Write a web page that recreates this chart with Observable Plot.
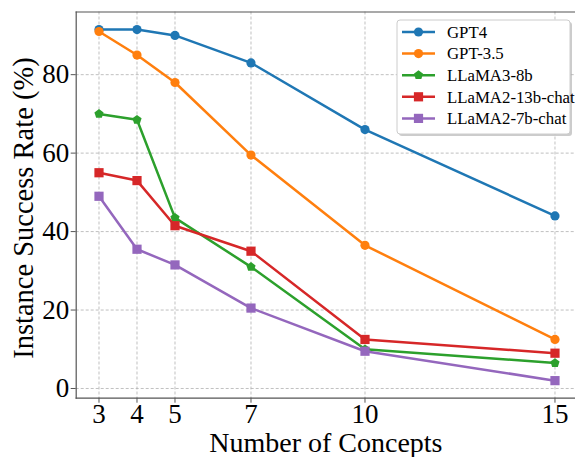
<!DOCTYPE html>
<html><head><meta charset="utf-8">
<script src="https://cdn.jsdelivr.net/npm/d3@7"></script>
<script src="https://cdn.jsdelivr.net/npm/@observablehq/plot@0.6"></script>
<style>body{margin:0;background:#fff}</style>
</head><body><div id="chart"></div>
<script>
const concepts = [3, 4, 5, 7, 10, 15];
const seriesNames = ["GPT4", "GPT-3.5", "LLaMA3-8b", "LLaMA2-13b-chat", "LLaMA2-7b-chat"];
const gpt4 = [91.5, 91.5, 90, 83, 66, 44];
const gpt35 = [91, 85, 78, 59.5, 36.5, 12.5];
const llama3_8b = [70, 68.5, 43.5, 31, 10, 6.5];
const llama2_13b = [55, 53, 41.5, 35, 12.5, 9];
const llama2_7b = [49, 35.5, 31.5, 20.5, 9.5, 2];
const yTicks = [0, 20, 40, 60, 80];
const xLabel = "Number of Concepts";
const yLabel = "Instance Success Rate (%)";

const values = [gpt4, gpt35, llama3_8b, llama2_13b, llama2_7b];
const colors = ["#1f77b4", "#ff7f0e", "#2ca02c", "#d62728", "#9467bd"];
const serif = "'Liberation Serif', 'Times New Roman', serif";

const pentagon = {
  draw(ctx, size) {
    const R = Math.sqrt(size / (2.5 * Math.sin(2 * Math.PI / 5)));
    for (let i = 0; i < 5; i++) {
      const a = -Math.PI / 2 + i * 2 * Math.PI / 5;
      const px = R * Math.cos(a), py = R * Math.sin(a);
      if (i === 0) ctx.moveTo(px, py); else ctx.lineTo(px, py);
    }
    ctx.closePath();
  }
};
const symbols = ["circle", "circle", pentagon, "square", "square"];
const radii = [4.6, 4.6, 4.2, 5.2, 5.2];

const rows = seriesNames.map((s, i) => concepts.map((c, j) => ({series: s, x: c, y: values[i][j]})));

const marks = [
  Plot.gridX(concepts, {stroke: "#b0b0b0", strokeOpacity: 1, strokeDasharray: "3,2", strokeWidth: 0.8}),
  Plot.gridY(yTicks, {stroke: "#b0b0b0", strokeOpacity: 1, strokeDasharray: "3,2", strokeWidth: 0.8}),
  Plot.frame({anchor: "left", stroke: "#555", strokeWidth: 1.2}),
  Plot.frame({anchor: "bottom", stroke: "#555", strokeWidth: 1.2}),
  Plot.frame({anchor: "top", stroke: "#555", strokeWidth: 1.2}),
  Plot.axisX(concepts, {tickSize: 5, tickPadding: 1, fontSize: 27, fontFamily: serif, label: null, stroke: "#555"}),
  Plot.axisY(yTicks, {tickSize: 5, tickPadding: 2, fontSize: 27, fontFamily: serif, label: null, stroke: "#555"}),
  Plot.text([yLabel], {frameAnchor: "left", rotate: -90, dx: -52, dy: 3, fontSize: 28.5, fontFamily: serif, lineAnchor: "middle", textAnchor: "middle"}),
  Plot.text([xLabel], {frameAnchor: "bottom", dy: 45, fontSize: 28, fontFamily: serif, lineAnchor: "middle", textAnchor: "middle"})
];
rows.forEach((d, i) => {
  marks.push(Plot.line(d, {x: "x", y: "y", stroke: colors[i], strokeWidth: 2.5}));
  marks.push(Plot.dot(d, {x: "x", y: "y", fill: colors[i], stroke: "none", symbol: () => symbols[i], r: radii[i]}));
});

const chart = Plot.plot({
  width: 575, height: 457,
  marginLeft: 75.7, marginRight: 0, marginTop: 11.5, marginBottom: 59.3,
  x: {type: "linear", domain: [2.4, 15.54]},
  y: {domain: [-2.475, 95.975]},
  symbol: {type: "identity"},
  style: {fontFamily: serif, fontSize: "27px", background: "#fff", color: "#000"},
  marks
});
document.getElementById("chart").appendChild(chart);

// Legend
const svg = d3.select(chart);
const lg = svg.append("g").attr("transform", "translate(397,20)");
lg.append("rect").attr("x", 2).attr("y", 2).attr("width", 173).attr("height", 114).attr("rx", 3).attr("fill", "#aaa").attr("opacity", 0.6);
lg.append("rect").attr("x", 0).attr("y", 0).attr("width", 173).attr("height", 114).attr("rx", 3).attr("fill", "#fff").attr("stroke", "#ccc");
seriesNames.forEach((s, i) => {
  const yy = 12 + i * 21.6;
  lg.append("line").attr("x1", 5).attr("x2", 38).attr("y1", yy).attr("y2", yy).attr("stroke", colors[i]).attr("stroke-width", 2.5);
  const sym = typeof symbols[i] === "string" ? (symbols[i] === "circle" ? d3.symbolCircle : d3.symbolSquare) : symbols[i];
  lg.append("path").attr("transform", `translate(21.5,${yy})`).attr("d", d3.symbol(sym, Math.PI * radii[i] * radii[i])()).attr("fill", colors[i]);
  lg.append("text").attr("x", 50).attr("y", yy).attr("dy", "0.35em").attr("text-anchor", "start")
    .style("font-family", serif).style("font-size", "16.8px").attr("fill", "#000").text(s);
});
</script>
</body></html>
